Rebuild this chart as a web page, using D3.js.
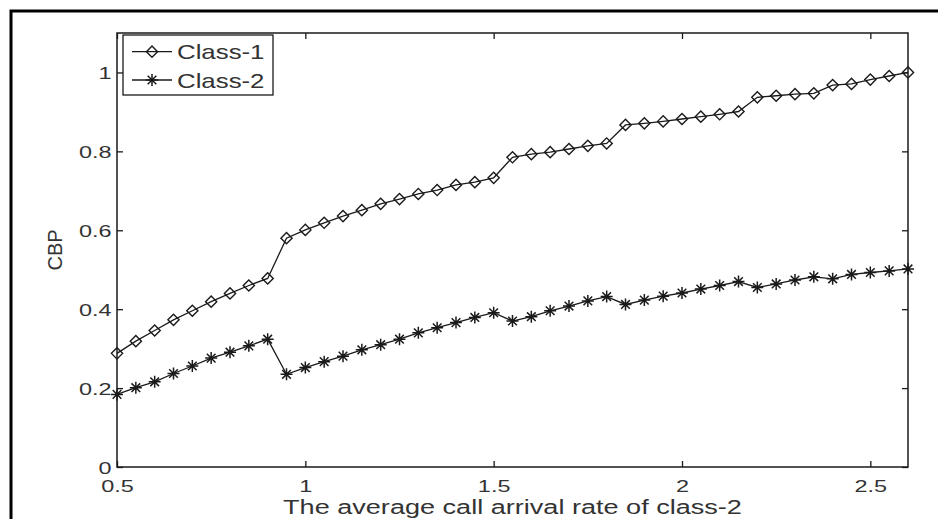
<!DOCTYPE html>
<html>
<head>
<meta charset="utf-8">
<script src="https://cdn.jsdelivr.net/npm/d3@7"></script>
<style>
  html, body { margin: 0; padding: 0; background: #fff; }
  svg { display: block; }
</style>
</head>
<body>
<svg id="chart" width="938" height="519"></svg>
<script>
// Average call arrival rate of class-2 (x) and call blocking probability per class
const rates = [0.5, 0.55, 0.6, 0.65, 0.7, 0.75, 0.8, 0.85, 0.9,
  0.95, 1.0, 1.05, 1.1, 1.15, 1.2, 1.25, 1.3, 1.35, 1.4, 1.45, 1.5,
  1.55, 1.6, 1.65, 1.7, 1.75, 1.8,
  1.85, 1.9, 1.95, 2.0, 2.05, 2.1, 2.15,
  2.2, 2.25, 2.3, 2.35, 2.4, 2.45, 2.5, 2.55, 2.6];
const class1 = [0.288, 0.319, 0.346, 0.373, 0.396, 0.419, 0.440, 0.460, 0.478,
  0.580, 0.601, 0.619, 0.636, 0.651, 0.667, 0.679, 0.692, 0.702, 0.715, 0.722, 0.733,
  0.785, 0.793, 0.798, 0.806, 0.814, 0.820,
  0.867, 0.871, 0.876, 0.882, 0.888, 0.894, 0.901,
  0.937, 0.941, 0.945, 0.947, 0.968, 0.971, 0.982, 0.991, 1.0];
const class2 = [0.184, 0.201, 0.216, 0.237, 0.256, 0.276, 0.291, 0.307, 0.324,
  0.235, 0.252, 0.267, 0.281, 0.297, 0.310, 0.324, 0.340, 0.353, 0.366, 0.379, 0.391,
  0.370, 0.381, 0.396, 0.408, 0.421, 0.432,
  0.412, 0.423, 0.433, 0.441, 0.451, 0.460, 0.470,
  0.455, 0.464, 0.474, 0.482, 0.477, 0.488, 0.493, 0.497, 0.502];
const seriesNames = ["Class-1", "Class-2"];
const xTicks = [0.5, 1, 1.5, 2, 2.5];
const yTicks = [0, 0.2, 0.4, 0.6, 0.8, 1];
const xTitle = "The average call arrival rate of class-2";
const yTitle = "CBP";

const svg = d3.select("#chart");
const plot = { left: 117, right: 908, top: 33, bottom: 467 };
const x = d3.scaleLinear().domain([0.5, 2.6]).range([plot.left, plot.right]);
const y = d3.scaleLinear().domain([0, 1.1]).range([plot.bottom, plot.top]);

const ink = "#1a1a1a";
const textInk = "#333333";
const font = "'Liberation Sans', Arial, Helvetica, sans-serif";
const tickFont = 17, tickStretch = 1.38;

// Page frame
svg.append("rect")
  .attr("x", 11).attr("y", 11).attr("width", 1000).attr("height", 1000)
  .attr("fill", "none").attr("stroke", "#000").attr("stroke-width", 3);

// Axes with inward ticks on all four sides
function styleAxis(g) {
  g.select(".domain").remove();
  g.selectAll(".tick line").attr("stroke", ink).attr("stroke-width", 1.3);
  g.selectAll(".tick text")
    .attr("fill", textInk)
    .style("font-family", font)
    .style("font-size", tickFont + "px");
}

const gx = svg.append("g")
  .attr("transform", `translate(0,${plot.bottom})`)
  .call(d3.axisBottom(x).tickValues(xTicks).tickSize(-6).tickPadding(13).tickFormat(d => String(d)));
styleAxis(gx);
gx.selectAll(".tick text").attr("transform", `scale(${tickStretch},1)`);

const gy = svg.append("g")
  .attr("transform", `translate(${plot.left},0)`)
  .call(d3.axisLeft(y).tickValues(yTicks).tickSize(-6).tickPadding(5.5).tickFormat(d => String(d)));
styleAxis(gy);
gy.selectAll(".tick text")
  .attr("x", -5.5 / tickStretch)
  .attr("dy", "0.38em")
  .attr("transform", `scale(${tickStretch},1)`);

const gt = svg.append("g")
  .attr("transform", `translate(0,${plot.top})`)
  .call(d3.axisTop(x).tickValues(xTicks).tickSize(-6).tickFormat(""));
styleAxis(gt);

const gr = svg.append("g")
  .attr("transform", `translate(${plot.right},0)`)
  .call(d3.axisRight(y).tickValues(yTicks).tickSize(-6).tickFormat(""));
styleAxis(gr);

// Plot box
svg.append("rect")
  .attr("x", plot.left).attr("y", plot.top)
  .attr("width", plot.right - plot.left).attr("height", plot.bottom - plot.top)
  .attr("fill", "none").attr("stroke", ink).attr("stroke-width", 1.5);

// Marker shapes
const diamond = r => `M0,${-r}L${r},0L0,${r}L${-r},0Z`;
const star = r => {
  const d = r * 0.72;
  return `M${-r},0L${r},0M0,${-r}L0,${r}M${-d},${-d}L${d},${d}M${-d},${d}L${d},${-d}`;
};

const series = [
  { name: seriesNames[0], values: class1, marker: diamond(5.6), markerWidth: 1.4 },
  { name: seriesNames[1], values: class2, marker: star(6), markerWidth: 1.5 }
];

const line = d3.line().x((d, i) => x(rates[i])).y(d => y(d));

series.forEach(s => {
  const g = svg.append("g");
  g.append("path")
    .attr("d", line(s.values))
    .attr("fill", "none").attr("stroke", ink).attr("stroke-width", 1.3);
  g.selectAll("path.mk")
    .data(s.values)
    .join("path")
    .attr("class", "mk")
    .attr("transform", (d, i) => `translate(${x(rates[i])},${y(d)})`)
    .attr("d", s.marker)
    .attr("fill", "none").attr("stroke", ink).attr("stroke-width", s.markerWidth);
});

// Legend
const legend = svg.append("g");
legend.append("rect")
  .attr("x", 123).attr("y", 35).attr("width", 150).attr("height", 60)
  .attr("fill", "#fff").attr("stroke", ink).attr("stroke-width", 1.3);
const rowY = [51.7, 80];
series.forEach((s, i) => {
  legend.append("line")
    .attr("x1", 132).attr("x2", 172).attr("y1", rowY[i]).attr("y2", rowY[i])
    .attr("stroke", ink).attr("stroke-width", 1.3);
  legend.append("path")
    .attr("transform", `translate(152,${rowY[i]})`)
    .attr("d", s.marker)
    .attr("fill", "none").attr("stroke", ink).attr("stroke-width", s.markerWidth);
  legend.append("text")
    .attr("transform", `translate(177,${rowY[i] + 7.5}) scale(1.26,1)`)
    .attr("fill", textInk)
    .style("font-family", font).style("font-size", "20.5px")
    .text(s.name);
});

// Axis titles
svg.append("text")
  .attr("transform", `translate(${(plot.left + plot.right) / 2},514) scale(1.29,1)`)
  .attr("text-anchor", "middle")
  .attr("fill", textInk)
  .style("font-family", font).style("font-size", "21px")
  .text(xTitle);

svg.append("text")
  .attr("transform", `translate(62,${(plot.top + plot.bottom) / 2}) rotate(-90)`)
  .attr("text-anchor", "middle")
  .attr("fill", textInk)
  .style("font-family", font).style("font-size", "20px")
  .text(yTitle);
</script>
</body>
</html>
